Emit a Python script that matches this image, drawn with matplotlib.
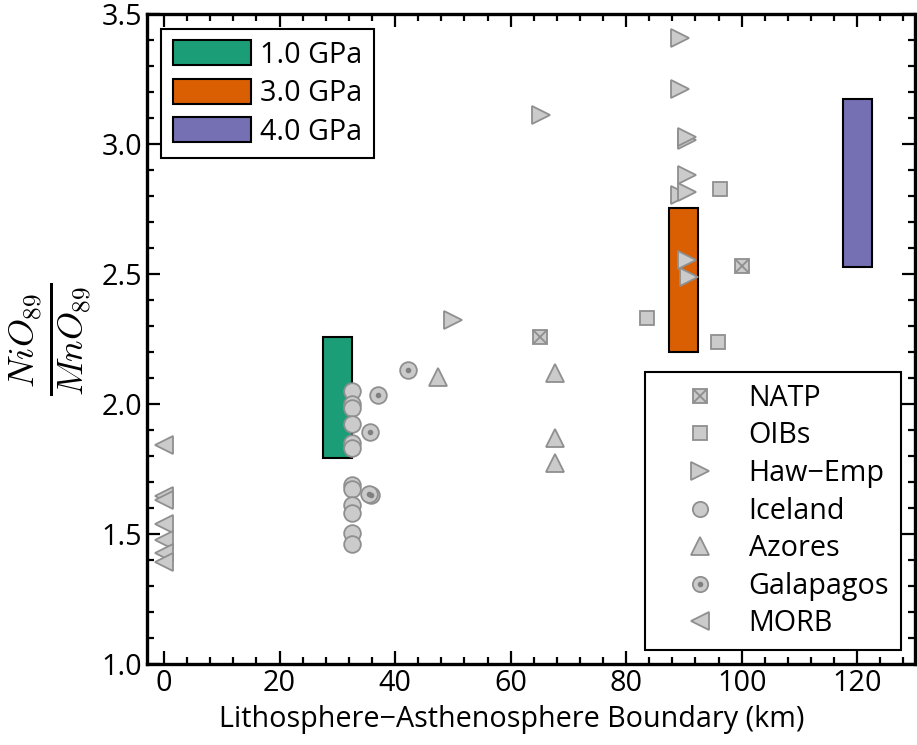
import matplotlib
matplotlib.use("Agg")
import matplotlib.pyplot as plt
from matplotlib.patches import Patch
from matplotlib.lines import Line2D
from matplotlib.legend_handler import HandlerTuple
from matplotlib.ticker import MultipleLocator

plt.rcParams['font.family'] = ['Open Sans', 'DejaVu Sans']
plt.rcParams['mathtext.fontset'] = 'cm'

# melting model ranges (LAB depth, low, high)
gpa_labels = ["1.0 GPa", "3.0 GPa", "4.0 GPa"]
gpa_depth = [30, 90, 120]
gpa_low = [1.795, 2.201, 2.527]
gpa_high = [2.258, 2.754, 3.174]
gpa_colors = ["#1b9e77", "#d95f02", "#7570b3"]

# observations
natp_x = [65.1, 100.1]
natp_y = [2.260, 2.533]

oib_x = [96.2, 83.6, 95.9]
oib_y = [2.827, 2.331, 2.241]

haw_x = [65.3, 50.0, 89.4, 89.4, 90.6, 90.6, 90.6, 89.4, 90.6, 90.6, 90.8]
haw_y = [3.112, 2.324, 3.408, 3.214, 3.018, 3.028, 2.881, 2.805, 2.815, 2.555, 2.491]

ice_x = [32.5] * 12
ice_y = [2.051, 2.001, 1.986, 1.923, 1.852, 1.831, 1.690, 1.675, 1.613, 1.583, 1.506, 1.462]

azo_x = [47.4, 67.6, 67.6, 67.6]
azo_y = [2.106, 2.119, 1.872, 1.775]

gal_x = [42.2, 37.1, 35.6, 35.8, 35.5]
gal_y = [2.132, 2.036, 1.892, 1.651, 1.655]

morb_x = [0, 0, 0, 0, 0, 0, 0]
morb_y = [1.845, 1.647, 1.632, 1.538, 1.480, 1.430, 1.395]

fc = "#cbcbcb"
ec = "#8f8f8f"
fs = 20.7

fig = plt.figure(figsize=(9.17, 7.45), dpi=100)
ax = fig.add_axes([0.16, 0.1083, 0.8378, 0.8725])

# bars
bar_handles = []
for d, lo, hi, c, lab in zip(gpa_depth, gpa_low, gpa_high, gpa_colors, gpa_labels):
    ax.bar(d, hi - lo, bottom=lo, width=5, color=c, edgecolor="black", linewidth=1.5, zorder=2)
    bar_handles.append(Patch(facecolor=c, edgecolor="black", linewidth=1.5, label=lab))

kw = dict(linestyle="none", markerfacecolor=fc, markeredgecolor=ec, markeredgewidth=1.3, zorder=3)
ax.plot(natp_x, natp_y, marker="s", markersize=9.5, **kw)
ax.plot(natp_x, natp_y, marker="x", markersize=9.5, linestyle="none", color=ec, markeredgewidth=1.3, zorder=4)
ax.plot(oib_x, oib_y, marker="s", markersize=9.5, **kw)
ax.plot(haw_x, haw_y, marker=">", markersize=12.5, **kw)
ax.plot(ice_x, ice_y, marker="o", markersize=12, **kw)
ax.plot(azo_x, azo_y, marker="^", markersize=12.5, **kw)
ax.plot(gal_x, gal_y, marker="o", markersize=12, **kw)
ax.plot(gal_x, gal_y, marker="o", markersize=3, linestyle="none", color="#808080", zorder=4)
ax.plot(morb_x, morb_y, marker="<", markersize=12.5, **kw)

ax.set_xlim(-3, 130)
ax.set_ylim(1.0, 3.5)
ax.xaxis.set_major_locator(MultipleLocator(20))
ax.xaxis.set_minor_locator(MultipleLocator(4))
ax.yaxis.set_major_locator(MultipleLocator(0.5))
ax.yaxis.set_minor_locator(MultipleLocator(0.1))
ax.yaxis.set_major_formatter(matplotlib.ticker.FormatStrFormatter("%.1f"))
ax.tick_params(which="both", direction="in", top=True, right=True, labelsize=fs, width=1.6)
ax.tick_params(which="major", length=9.5)
ax.tick_params(which="minor", length=5)
for s in ax.spines.values():
    s.set_linewidth(2.4)

ax.set_xlabel("Lithosphere\u2212Asthenosphere Boundary (km)", fontsize=fs)
ax.xaxis.set_label_coords(0.4755, -0.062)
ax.set_ylabel(r"$\frac{NiO_{89}}{MnO_{89}}$", fontsize=37, labelpad=6)

leg1 = ax.legend(handles=bar_handles, loc="upper left", fontsize=fs, frameon=True,
                 fancybox=False, edgecolor="black", framealpha=1, handlelength=2.74,
                 handleheight=0.96, handletextpad=0.3, borderaxespad=0.5,
                 labelspacing=0.32, borderpad=0.4)
leg1.get_frame().set_linewidth(1.5)
ax.add_artist(leg1)

mk = dict(linestyle="none", markerfacecolor=fc, markeredgecolor=ec, markeredgewidth=1.3)
h_natp = (Line2D([], [], marker="s", markersize=9.5, **mk),
          Line2D([], [], marker="x", markersize=9.5, linestyle="none", color=ec, markeredgewidth=1.3))
h_oib = Line2D([], [], marker="s", markersize=9.5, **mk)
h_haw = Line2D([], [], marker=">", markersize=12.5, **mk)
h_ice = Line2D([], [], marker="o", markersize=11, **mk)
h_azo = Line2D([], [], marker="^", markersize=12.5, **mk)
h_gal = (Line2D([], [], marker="o", markersize=11, **mk),
         Line2D([], [], marker="o", markersize=3, linestyle="none", color="#808080"))
h_morb = Line2D([], [], marker="<", markersize=12.5, **mk)
leg2 = ax.legend([h_natp, h_oib, h_haw, h_ice, h_azo, h_gal, h_morb],
                 ["NATP", "OIBs", "Haw\u2212Emp", "Iceland", "Azores", "Galapagos", "MORB"],
                 handler_map={tuple: HandlerTuple(ndivide=1, pad=0)},
                 loc="lower right", fontsize=fs, frameon=True, fancybox=False,
                 edgecolor="black", framealpha=1, handlelength=3.0, handletextpad=0.2,
                 borderaxespad=0.5, labelspacing=0.3, borderpad=0.4)
leg2.get_frame().set_linewidth(1.5)

fig.savefig("out.png", dpi=100)
